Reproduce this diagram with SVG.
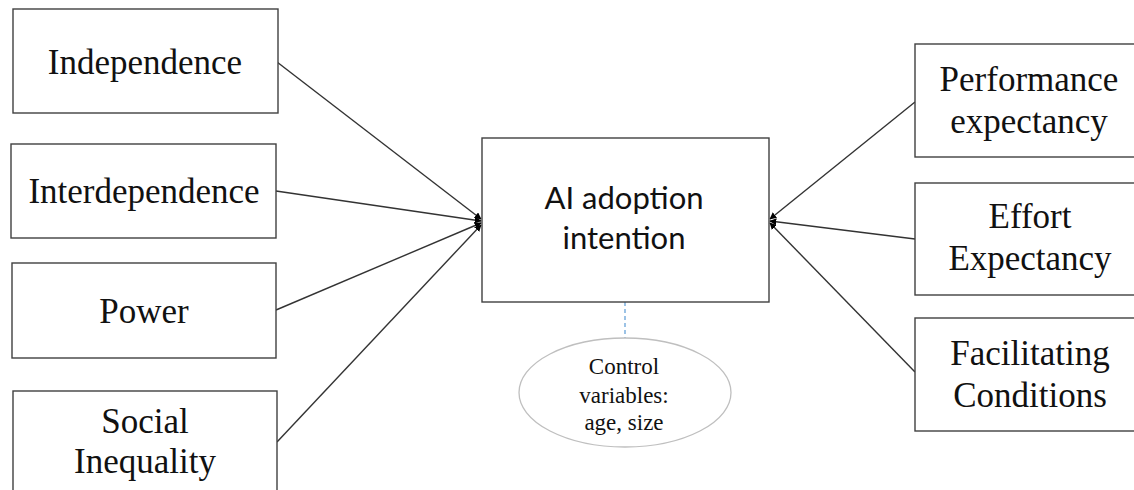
<svg xmlns="http://www.w3.org/2000/svg" width="1134" height="490" viewBox="0 0 1134 490">
<style>
.box{fill:#fff;stroke:#404040;stroke-width:1.4}
.t{font-family:"Liberation Serif","Times New Roman",serif;font-size:35px;fill:#111;text-anchor:middle}
.c{font-family:Lato,"Open Sans",sans-serif;font-size:31px;fill:#111;text-anchor:middle}
.s{font-family:"Liberation Serif","Times New Roman",serif;font-size:23px;fill:#111;text-anchor:middle}
.ln{stroke:#333;stroke-width:1.4;fill:none;marker-end:url(#ah)}
</style>
<defs>
<marker id="ah" viewBox="0 0 10 10" refX="9" refY="5" markerWidth="7" markerHeight="7" markerUnits="userSpaceOnUse" orient="auto">
<path d="M0,0 L10,5 L0,10 z" fill="#000"/>
</marker>
</defs>
<rect width="1134" height="490" fill="#fff"/>
<g id="connectors">
<line class="ln" x1="277" y1="62" x2="481" y2="219"/>
<line class="ln" x1="276" y1="191" x2="481" y2="221"/>
<line class="ln" x1="276" y1="310" x2="481" y2="223"/>
<line class="ln" x1="277" y1="442" x2="481" y2="225"/>
<line class="ln" x1="915" y1="102" x2="770" y2="219"/>
<line class="ln" x1="915" y1="239" x2="770" y2="221"/>
<line class="ln" x1="915" y1="372" x2="770" y2="223"/>
<line x1="625" y1="302" x2="625" y2="338" stroke="#5b9bd5" stroke-width="1.2" stroke-dasharray="4,3"/>
</g>
<g id="independence"><rect class="box" x="13" y="9" width="265" height="104"/><text class="t" x="145" y="74">Independence</text></g>
<g id="interdependence"><rect class="box" x="11" y="144" width="265" height="94"/><text class="t" x="144" y="203">Interdependence</text></g>
<g id="power"><rect class="box" x="12" y="263" width="264" height="95"/><text class="t" x="144" y="323">Power</text></g>
<g id="social-inequality"><rect class="box" x="13" y="391" width="264" height="110"/><text class="t" x="145" y="433">Social</text><text class="t" x="145" y="473">Inequality</text></g>
<g id="ai-adoption"><rect class="box" x="482" y="138" width="287" height="164"/><text class="c" x="624" y="209">AI adoption</text><text class="c" x="624" y="249">intention</text></g>
<g id="control-variables"><ellipse cx="625" cy="392.5" rx="106" ry="54.5" fill="#fff" stroke="#bfbfbf" stroke-width="1.3"/><text class="s" x="624" y="374">Control</text><text class="s" x="624" y="403">variables:</text><text class="s" x="624" y="430">age, size</text></g>
<g id="performance-expectancy"><rect class="box" x="915" y="44" width="230" height="113"/><text class="t" x="1029" y="91">Performance</text><text class="t" x="1029" y="133">expectancy</text></g>
<g id="effort-expectancy"><rect class="box" x="915" y="183" width="230" height="112"/><text class="t" x="1030" y="228">Effort</text><text class="t" x="1030" y="270">Expectancy</text></g>
<g id="facilitating-conditions"><rect class="box" x="915" y="318" width="230" height="113"/><text class="t" x="1030" y="365">Facilitating</text><text class="t" x="1030" y="407">Conditions</text></g>
</svg>
